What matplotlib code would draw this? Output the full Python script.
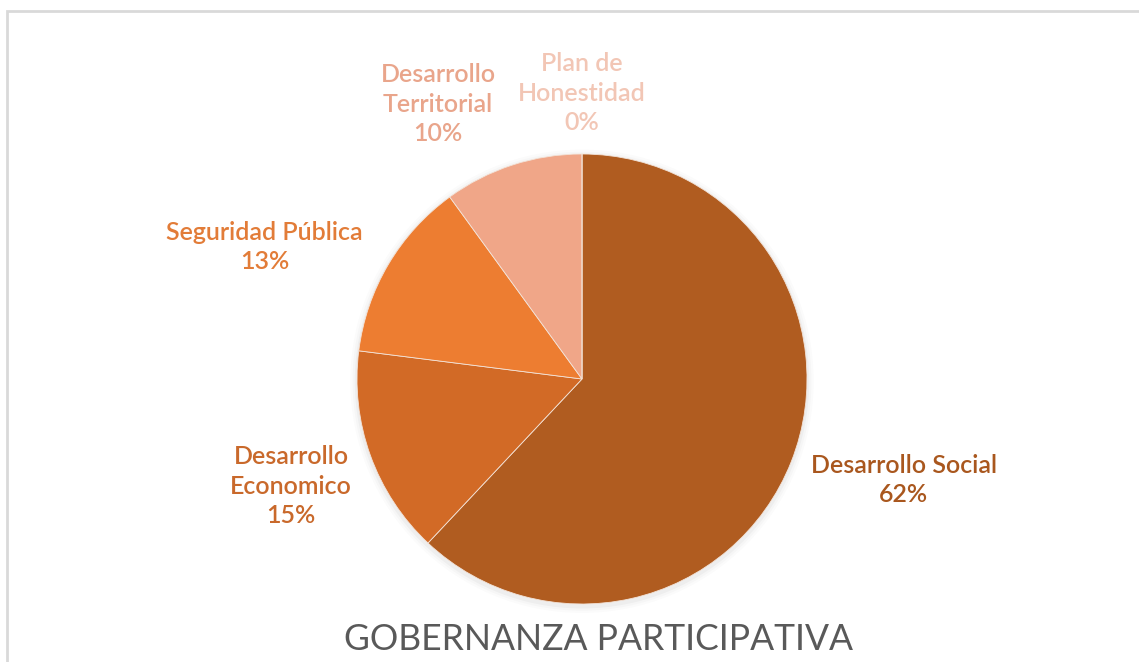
import numpy as np
import matplotlib.pyplot as plt
from matplotlib.patches import Rectangle, Circle

plt.rcParams['font.family'] = ['Lato', 'DejaVu Sans']

categories = ['Desarrollo Social', 'Desarrollo\nEconomico', 'Seguridad Pública',
              'Desarrollo\nTerritorial', 'Plan de\nHonestidad']
shares = [62, 15, 13, 10, 0]
slice_colors = ['#B05C20', '#D26A26', '#ED7D31', '#F0A688', '#F6C7B4']
label_colors = ['#A9571E', '#C9692B', '#E27C38', '#E9A58B', '#F2C6B5']
# label placement (in pie radii), Excel "best fit" look
label_pos = [(1.43, -0.45), (-1.293, -0.476), (-1.41, 0.587), (-0.64, 1.222), (0.0, 1.271)]

fig = plt.figure(figsize=(11.39, 6.62), dpi=100)
ax = fig.add_axes([0, 0, 1, 1])

# soft shadow behind the pie
for r, a in [(1.03, 0.015), (1.02, 0.02), (1.01, 0.03)]:
    ax.add_patch(Circle((0.0, -0.01), r, color='#000000', alpha=a, lw=0, zorder=0))

wedges, _ = ax.pie(shares, colors=slice_colors, startangle=90, counterclock=False,
                   radius=1.0, wedgeprops=dict(edgecolor='#f3e3d8', linewidth=0.6))
for w in wedges:
    w.set_zorder(2)

for name, val, col, (lx, ly) in zip(categories, shares, label_colors, label_pos):
    ax.text(lx, ly, f'{name}\n{val}%', color=col, fontsize=18, ha='center', va='center',
            linespacing=1.33, fontweight='semibold')

ax.set_xlim(-582 / 225, (1139 - 582) / 225)
ax.set_ylim(-283 / 225, (662 - 283) / 225)
ax.set_aspect('equal')
ax.axis('off')

fig.text(598 / 1139, 1 - 640 / 662, 'GOBERNANZA PARTICIPATIVA', color='#595959',
         fontsize=25.6, ha='center', va='center')

fig.patches.append(Rectangle((7 / 1139, -0.1), 1.2, 1 - 11 / 662 + 0.1,
                             transform=fig.transFigure, fill=False,
                             edgecolor='#d9d9d9', linewidth=2))

fig.savefig('out.png', dpi=100)
